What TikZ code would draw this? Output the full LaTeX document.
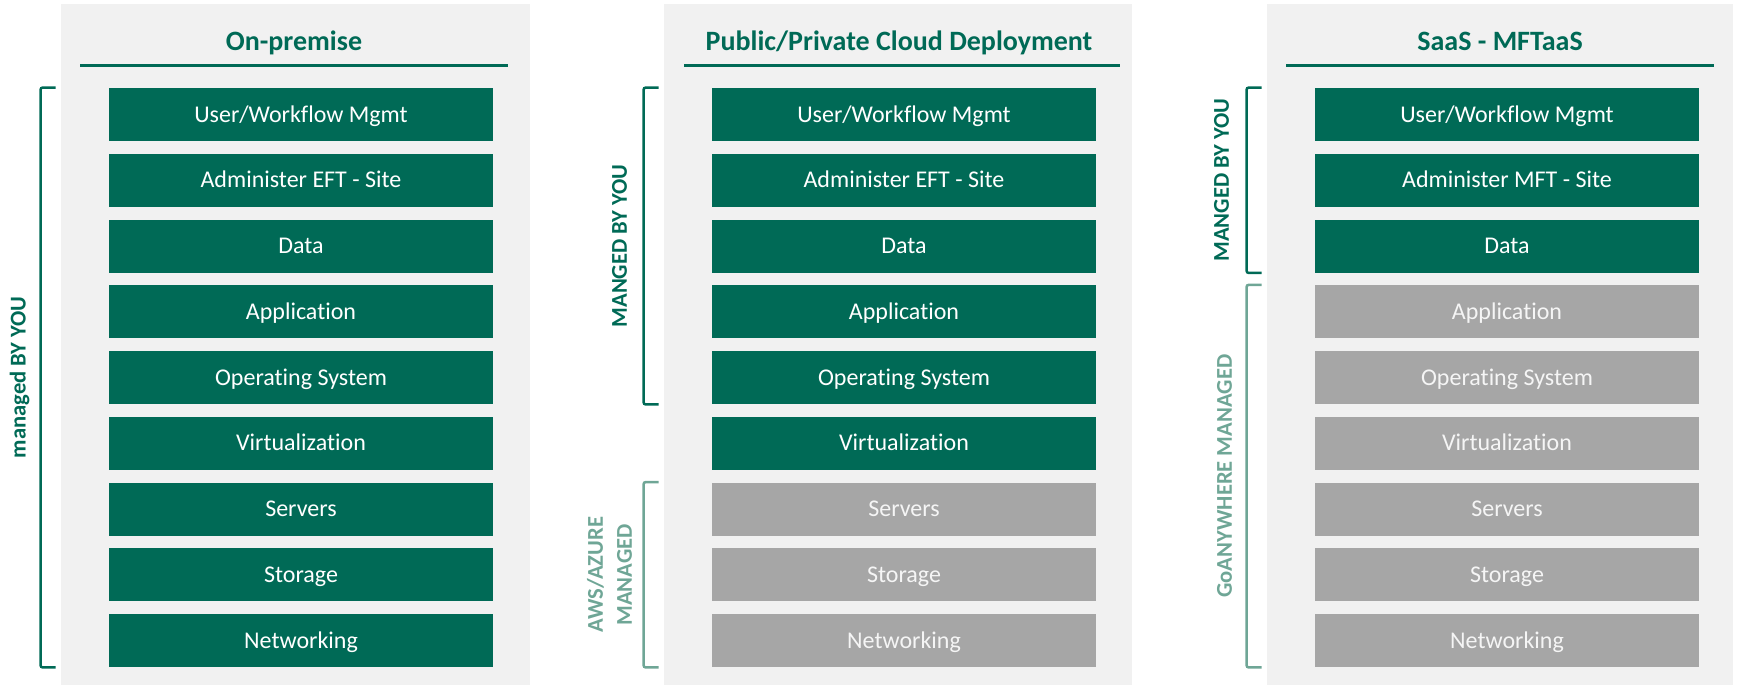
\documentclass[tikz,border=0pt]{standalone}
\usepackage{fontspec}
\setmainfont[Ligatures=NoCommon]{Carlito}
\usetikzlibrary{calc}
\definecolor{mftgreen}{RGB}{0,106,86}
\definecolor{mftteal}{RGB}{111,166,150}
\definecolor{mftgray}{RGB}{166,166,166}
\definecolor{panelbg}{RGB}{241,241,241}
\begin{document}
\begin{tikzpicture}[x=0.5pt,y=-0.5pt,
		layer/.style={minimum width=192pt,minimum height=26.5pt,inner sep=0pt,text height=7.7pt,text depth=0pt,font=\fontsize{12}{14}\selectfont,text=white},
		own/.style={layer,fill=mftgreen},
		hosted/.style={layer,fill=mftgray,text=white!96!black},
		title/.style={font=\bfseries\fontsize{14}{17}\selectfont,text=mftgreen,anchor=base},
		sidelabel/.style={rotate=90,font=\bfseries\fontsize{11.3}{14.5}\selectfont,align=center},
		bracket/.style={line width=1.25pt,rounded corners=1pt}]
		\useasboundingbox (0,0) rectangle (1738,685);
		% panels
		\fill[panelbg] (61,4) rectangle (530,685);
		\fill[panelbg] (664,4) rectangle (1132,685);
		\fill[panelbg] (1267,4) rectangle (1733,685);
		% titles
		\node[title] (t1) at (294,50) {On-premise};
		\node[title] (t2) at (899,50) {Public/Private Cloud Deployment};
		\node[title] (t3) at (1500,50) {SaaS - MFTaaS};
		\draw[mftgreen,line width=1.5pt] (80,65) -- (508,65) (684,65) -- (1120,65) (1286,65) -- (1714,65);
		% layer stacks
		\foreach \txt/\sty [count=\i] in {{User/Workflow Mgmt}/own,{Administer EFT - Site}/own,Data/own,Application/own,{Operating System}/own,Virtualization/own,Servers/own,Storage/own,Networking/own}
			\node[\sty] (onp\i) at (301,{114.5+65.75*(\i-1)}) {\txt};
		\foreach \txt/\sty [count=\i] in {{User/Workflow Mgmt}/own,{Administer EFT - Site}/own,Data/own,Application/own,{Operating System}/own,Virtualization/own,Servers/hosted,Storage/hosted,Networking/hosted}
			\node[\sty] (cld\i) at (904,{114.5+65.75*(\i-1)}) {\txt};
		\foreach \txt/\sty [count=\i] in {{User/Workflow Mgmt}/own,{Administer MFT - Site}/own,Data/own,Application/hosted,{Operating System}/hosted,Virtualization/hosted,Servers/hosted,Storage/hosted,Networking/hosted}
			\node[\sty] (saas\i) at (1507,{114.5+65.75*(\i-1)}) {\txt};
		% brackets
		\draw[bracket,mftgreen] ([xshift=-26.5pt]onp1.north west) -| ([xshift=-34pt]onp9.south west) -- ([xshift=-26.5pt]onp9.south west);
		\draw[bracket,mftgreen] ([xshift=-26.5pt]cld1.north west) -| ([xshift=-34pt]cld5.south west) -- ([xshift=-26.5pt]cld5.south west);
		\draw[bracket,mftteal] ([xshift=-26.5pt]cld7.north west) -| ([xshift=-34pt]cld9.south west) -- ([xshift=-26.5pt]cld9.south west);
		\draw[bracket,mftgreen] ([xshift=-26.5pt]saas1.north west) -| ([xshift=-34pt]saas3.south west) -- ([xshift=-26.5pt]saas3.south west);
		\draw[bracket,mftteal] ([xshift=-26.5pt]saas4.north west) -| ([xshift=-34pt]saas9.south west) -- ([xshift=-26.5pt]saas9.south west);
		% side labels
		\coordinate (m1) at ($(onp1.north west)!.5!(onp9.south west)$);
		\coordinate (m2) at ($(cld1.north west)!.5!(cld5.south west)$);
		\coordinate (m3) at ($(cld7.north west)!.5!(cld9.south west)$);
		\coordinate (m4) at ($(saas1.north west)!.5!(saas3.south west)$);
		\coordinate (m5) at ($(saas4.north west)!.5!(saas9.south west)$);
		\node[sidelabel,text=mftgreen] (l1) at ([xshift=-44.5pt]m1) {managed BY YOU};
		\node[sidelabel,text=mftgreen] (l2) at ([xshift=-46pt]m2) {MANGED BY YOU};
		\node[sidelabel,text=mftteal] (l3) at ([xshift=-51pt]m3) {AWS/AZURE\\MANAGED};
		\node[sidelabel,text=mftgreen] (l4) at ([xshift=-46.5pt]m4) {MANGED BY YOU};
		\node[sidelabel,text=mftteal] (l5) at ([xshift=-45pt]m5) {GoANYWHERE MANAGED};
	\end{tikzpicture}
\end{document}
